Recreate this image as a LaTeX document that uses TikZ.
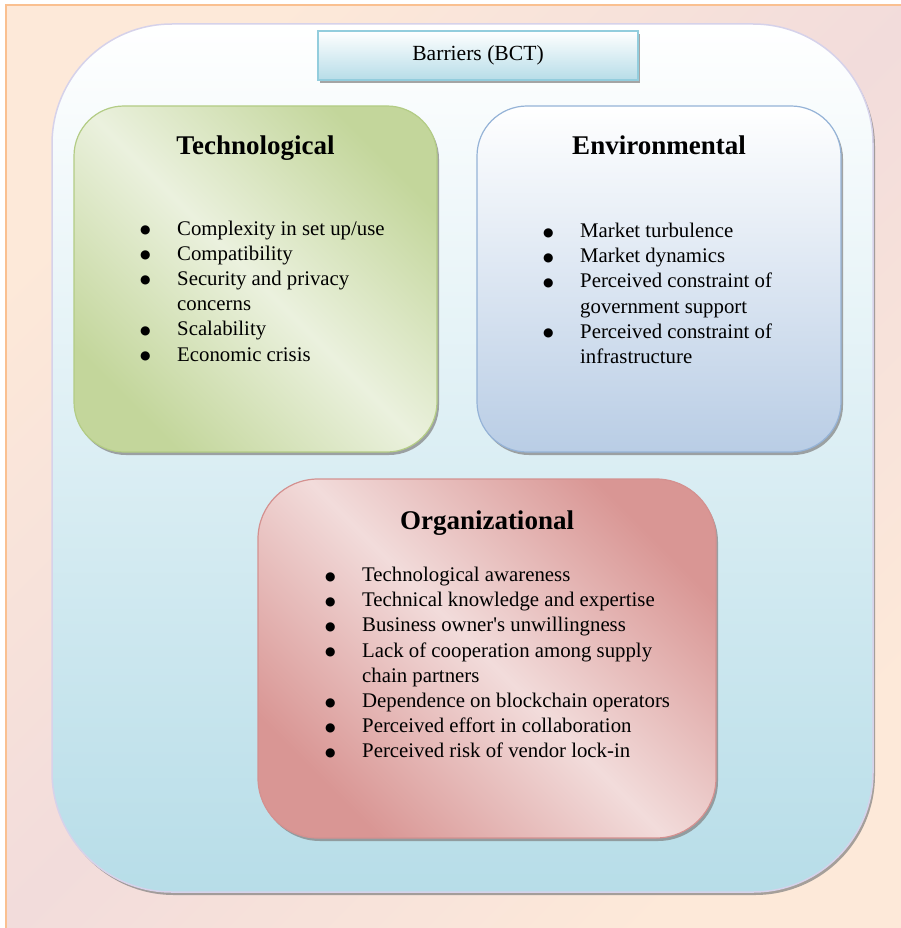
\documentclass[tikz,border=0pt]{standalone}
\usepackage{fontspec}
\setmainfont{Liberation Serif}
\newfontfamily\dotfont{DejaVu Sans}
\usetikzlibrary{positioning,shadows}

\definecolor{peach}{HTML}{FDE9D9}
\definecolor{rosepink}{HTML}{F2DCDB}
\definecolor{frameorange}{HTML}{FAC090}
\definecolor{paleblue}{HTML}{B7DDE8}
\definecolor{lavender}{HTML}{D6D2EA}
\definecolor{titleedge}{HTML}{93CDDD}
\definecolor{leafdark}{HTML}{C3D69B}
\definecolor{leaflight}{HTML}{EBF1DE}
\definecolor{leafedge}{HTML}{B3CC85}
\definecolor{skyblue}{HTML}{B9CDE5}
\definecolor{skyedge}{HTML}{95B3D7}
\definecolor{rosedark}{HTML}{D99694}
\definecolor{roseedge}{HTML}{D49190}

\tikzset{
  boxshadow/.style={drop shadow={shadow xshift=2pt, shadow yshift=-3pt, fill=gray, opacity=.7}},
  catbox/.style={draw, line width=1.2pt, rounded corners=50pt, inner sep=0pt, boxshadow},
  headtext/.style={font=\fontsize{27}{32}\selectfont\bfseries, inner sep=0pt, anchor=base},
  listtext/.style={font=\fontsize{20.8}{25.2}\selectfont, inner sep=0pt, anchor=base west},
}

\newcommand{\bul}{\raisebox{1.5pt}{\dotfont\fontsize{12}{12}\selectfont ●}}
\newenvironment{barlist}{\begin{tabular}[t]{@{}p{37pt}@{}l@{}}}{\end{tabular}}

\begin{document}
\begin{tikzpicture}[x=1pt, y=-1pt]

    \useasboundingbox (0,0) rectangle (901,928);

    % Draw page background
    \shade[draw=frameorange, line width=1.5pt, top color=peach, bottom color=peach, middle color=rosepink, shading angle=45] (6,5) rectangle (912,940);

    % Draw outer frame
    \node[draw=lavender, line width=1.5pt, rounded corners=120pt, top color=white, bottom color=paleblue, minimum width=821pt, minimum height=868pt, inner sep=0pt, boxshadow] (frame) at (462.5,458) {};

    % Draw title box
    \node[draw=titleedge, line width=1.2pt, top color=white, bottom color=paleblue, minimum width=320pt, minimum height=49pt, inner sep=0pt, boxshadow, font=\fontsize{21.6}{25.2}\selectfont] (title) at (478,55.5) {Barriers (BCT)};

    % Draw the three category boxes
    \node[catbox, draw=leafedge, top color=leafdark, bottom color=leafdark, middle color=leaflight, shading angle=-45, minimum width=363pt, minimum height=346pt] (tech) at (255.5,279) {};
    \node[catbox, draw=skyedge, top color=white, bottom color=skyblue, minimum width=364pt, minimum height=346pt] (env) at (659,279) {};
    \node[catbox, draw=roseedge, top color=rosedark, bottom color=rosedark, middle color=rosepink, shading angle=-45, rounded corners=60pt, minimum width=458pt, minimum height=359pt] (org) at (487,658.5) {};

    % Headings
    \node[headtext, below=49pt of tech.north, anchor=base] (techhead) {Technological};
    \node[headtext, below=49pt of env.north, anchor=base] (envhead) {Environmental};
    \node[headtext, below=51pt of org.north, anchor=base] (orghead) {Organizational};

    % Bullet lists
    \node[listtext] (techlist) at (140,235) {\begin{barlist}
        \bul & Complexity in set up/use\\
        \bul & Compatibility\\
        \bul & Security and privacy\\
             & concerns\\
        \bul & Scalability\\
        \bul & Economic crisis
    \end{barlist}};
    \node[listtext] (envlist) at (543,237.5) {\begin{barlist}
        \bul & Market turbulence\\
        \bul & Market dynamics\\
        \bul & Perceived constraint of\\
             & government support\\
        \bul & Perceived constraint of\\
             & infrastructure
    \end{barlist}};
    \node[listtext] (orglist) at (325,581.5) {\begin{barlist}
        \bul & Technological awareness\\
        \bul & Technical knowledge and expertise\\
        \bul & Business owner\textquotesingle s unwillingness\\
        \bul & Lack of cooperation among supply\\
             & chain partners\\
        \bul & Dependence on blockchain operators\\
        \bul & Perceived effort in collaboration\\
        \bul & Perceived risk of vendor lock-in
    \end{barlist}};

\end{tikzpicture}
\end{document}
